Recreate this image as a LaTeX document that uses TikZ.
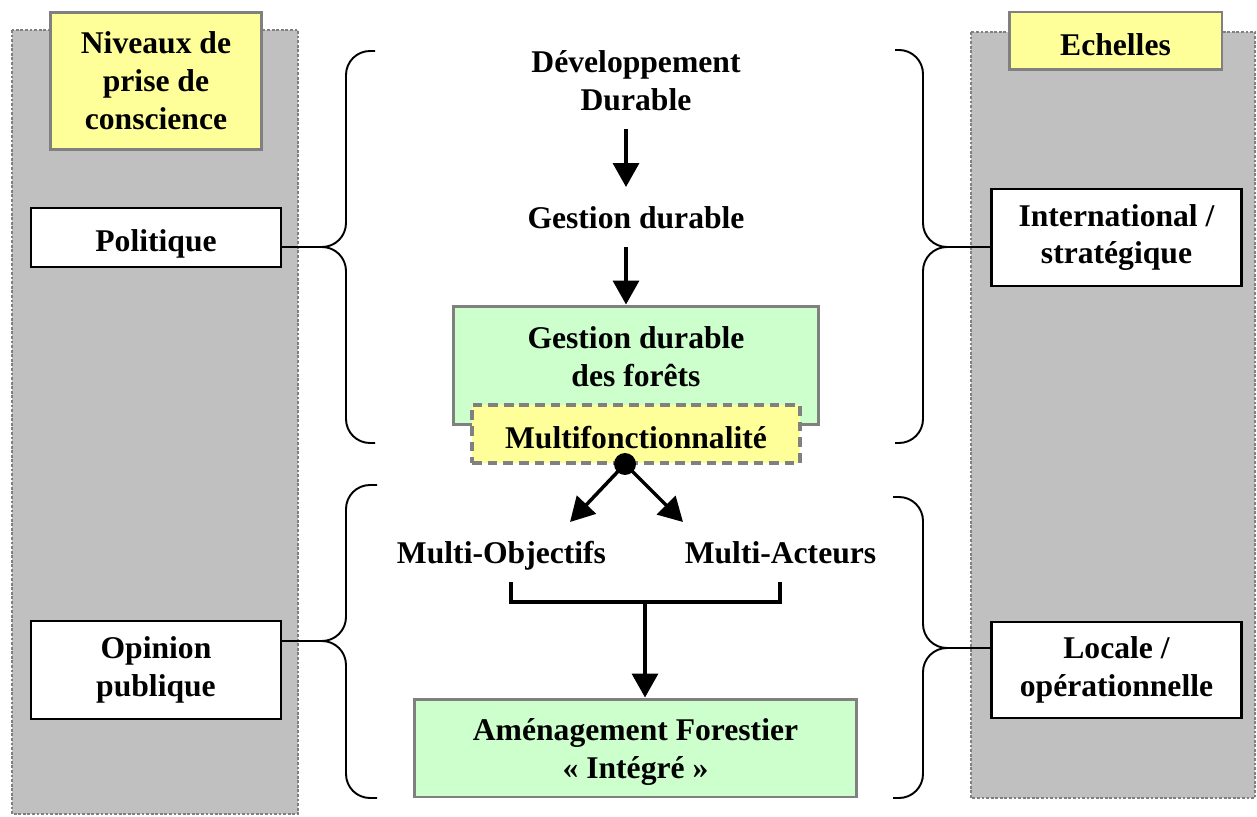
\documentclass[tikz,border=0pt]{standalone}
\usepackage{fontspec}
\setmainfont{Liberation Serif}
\usetikzlibrary{positioning}
\usetikzlibrary{calc}
\usetikzlibrary{arrows.meta}
\definecolor{panelgray}{RGB}{192,192,192}
\definecolor{edgegray}{RGB}{128,128,128}
\definecolor{paleyellow}{RGB}{255,255,153}
\definecolor{palegreen}{RGB}{204,255,204}
\tikzset{
  lbl/.style={font=\fontsize{18}{21.6}\selectfont\bfseries, align=center, inner sep=0pt},
  oneline/.style={text height=16.5pt, text depth=0pt},
  panel/.style={fill=panelgray, draw=edgegray, line width=1.2pt, dash pattern=on 1.6pt off 1pt},
  titlebox/.style={lbl, draw=edgegray, fill=paleyellow, line width=1.7pt},
  levelbox/.style={lbl, draw=black, fill=white, line width=1.2pt, minimum width=5cm},
  greenbox/.style={lbl, draw=edgegray, fill=palegreen, line width=1.7pt},
  dashbox/.style={lbl, draw=edgegray, fill=paleyellow, line width=1.8pt, dash pattern=on 5.5pt off 3.4pt},
  brace/.style={draw=black, line width=1.1pt, rounded corners=0.48cm},
  arr/.style={draw=black, line width=2pt, -{Triangle[length=0.48cm,width=0.52cm]}},
  bar/.style={draw=black, line width=1.9pt}
}
\begin{document}
\begin{tikzpicture}[x=0.02cm, y={(0cm,-0.02cm)}]
        \useasboundingbox (0,0) rectangle (1257,817);
        % side panels %
        \draw[panel] (12,30) rectangle (298,814);
        \draw[panel] (971,32) rectangle (1255,798);
        % nodes %
        \node[titlebox, minimum width=4.24cm, minimum height=2.76cm] (niveaux) at (156,81) {Niveaux de\\prise de\\conscience};
        \node[titlebox, oneline, minimum width=4.26cm, minimum height=1.16cm] (echelles) at (1115.5,41) {Echelles};
        \node[levelbox, oneline, minimum height=1.18cm] (politique) at (156,237.5) {Politique};
        \node[levelbox, minimum height=1.96cm] (opinion) at (156,670) {Opinion\\publique};
        \node[levelbox, minimum height=1.94cm] (internat) at (1116.5,237.5) {International /\\stratégique};
        \node[levelbox, minimum height=1.92cm] (locale) at (1116.5,670) {Locale /\\opérationnelle};

        \node[lbl] (dev) at (636,81) {Développement\\Durable};
        \node[lbl, oneline] (gest) at (636,214) {Gestion durable};
        \node[greenbox, minimum width=7.32cm, minimum height=2.38cm] (gdf) at (636,365.5) {};
        \node[lbl] (gdftext) at (636,357) {Gestion durable\\des forêts};
        \node[dashbox, oneline, minimum width=6.56cm, minimum height=1.16cm] (multi) at (636,434) {Multifonctionnalité};
        \node[circle, fill=black, inner sep=0pt, minimum size=0.44cm] (dot) at (625,464) {};
        \node[lbl, oneline] (mobj) at (501.5,549) {Multi-Objectifs};
        \node[lbl, oneline] (mact) at (780.5,549) {Multi-Acteurs};
        \node[greenbox, minimum width=8.86cm, minimum height=1.96cm] (amenag) at (635.5,748) {};
        \node[lbl] (amtext) at (635.5,752) {Aménagement Forestier\\« Intégré »};

        \coordinate (objend) at (570,522);
        \coordinate (actend) at (683,522);
        \coordinate (brl) at (511,582);
        \coordinate (brr) at (780,582);
        \coordinate (join) at (645,602);
        % brace tips %
        \coordinate (ltip1) at (321,247);
        \coordinate (ltip2) at (321,641);
        \coordinate (rtip1) at (948,247);
        \coordinate (rtip2) at (948,648);

        % edges %
        \draw[arr, shorten <=10pt] ($(dev.south)+(-10,0)$) -- ($(gest.center)+(-10,-27)$);
        \draw[arr] ($(gest.center)+(-10,33)$) -- (gdf.north -| 626,0);
        \draw[arr] (dot.center) -- (objend);
        \draw[arr] (dot.center) -- (actend);
        \draw[bar] (brl) |- (join) -| (brr);
        \draw[arr] (join) -- (join |- amenag.north);

        % braces %
        \draw[brace] (375,51) -- (346,51) -- (346,247) -- (ltip1);
        \draw[brace] (ltip1) -- (346,247) -- (346,443) -- (375,443);
        \draw[brace] (377,485) -- (346,485) -- (346,641) -- (ltip2);
        \draw[brace] (ltip2) -- (346,641) -- (346,798) -- (377,798);
        \draw[brace] (895,50) -- (923,50) -- (923,247) -- (rtip1);
        \draw[brace] (rtip1) -- (923,247) -- (923,443) -- (895,443);
        \draw[brace] (893,497) -- (923,497) -- (923,648) -- (rtip2);
        \draw[brace] (rtip2) -- (923,648) -- (923,798) -- (893,798);
        \draw[line width=1.1pt] (ltip1) -- (ltip1 -| politique.east);
        \draw[line width=1.1pt] (ltip2) -- (ltip2 -| opinion.east);
        \draw[line width=1.1pt] (rtip1) -- (rtip1 -| internat.west);
        \draw[line width=1.1pt] (rtip2) -- (rtip2 -| locale.west);
      \end{tikzpicture}
\end{document}
